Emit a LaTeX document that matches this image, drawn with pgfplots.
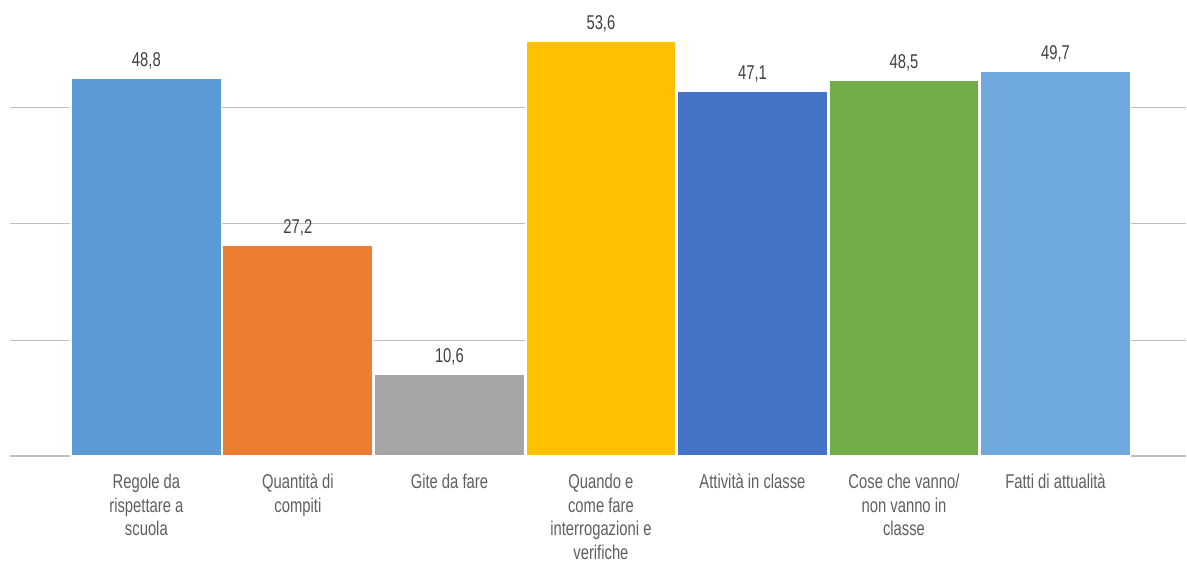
\documentclass[border=0pt]{standalone}
\usepackage{pgfplots}
\pgfplotsset{compat=1.18}
\usepackage{fontspec}
\setmainfont{Liberation Sans}[FakeStretch=0.74]
\definecolor{cA}{HTML}{5B9BD5}
\definecolor{cB}{HTML}{ED7D31}
\definecolor{cC}{HTML}{A5A5A5}
\definecolor{cD}{HTML}{FFC000}
\definecolor{cE}{HTML}{4472C4}
\definecolor{cF}{HTML}{70AD47}
\definecolor{cG}{HTML}{6FA8DC}
\definecolor{gridc}{HTML}{BFBFBF}
\definecolor{labc}{HTML}{5F5F5F}
\definecolor{valc}{HTML}{404040}
\begin{document}
\begin{tikzpicture}
\path (0pt,0pt) rectangle (890.25pt,422.25pt);
\begin{axis}[
  at={(7.5pt,79.875pt)}, anchor=south west,
  scale only axis, width=882.75pt, height=319.69pt,
  xmin=-0.9, xmax=6.863, ymin=0, ymax=55,
  clip=false,
  axis lines*=left,
  y axis line style={draw=none},
  x axis line style={gridc, line width=1.1pt, -},
  ytick={15,30,45}, yticklabels={}, ymajorgrids,
  grid style={gridc, line width=0.75pt},
  xtick={0,1,2,3,4,5,6},
  xticklabels={{Regole da\\rispettare a\\scuola},{Quantità di\\compiti},{Gite da fare},{Quando e\\come fare\\interrogazioni e\\verifiche},{Attività in classe},{Cose che vanno/\\non vanno in\\classe},{Fatti di attualità}},
  major tick length=0pt,
  xticklabel style={align=center, font=\fontsize{15}{17.8}\selectfont, text=labc, anchor=north, inner sep=0pt, yshift=-13pt},
  ybar, bar shift=0pt, bar width=0.992,
  every axis plot/.append style={draw=white, line width=1.1pt},
  /pgf/number format/assume math mode=true,
  /pgf/number format/.cd, use comma, fixed, fixed zerofill, precision=1, /pgfplots/.cd,
  nodes near coords,
  every node near coord/.append style={font=\fontsize{15}{18}\selectfont, text=valc, anchor=south, yshift=3pt},
]
\addplot[fill=cA] coordinates {(0,48.8)};
\addplot[fill=cB] coordinates {(1,27.2)};
\addplot[fill=cC] coordinates {(2,10.6)};
\addplot[fill=cD] coordinates {(3,53.6)};
\addplot[fill=cE] coordinates {(4,47.1)};
\addplot[fill=cF] coordinates {(5,48.5)};
\addplot[fill=cG] coordinates {(6,49.7)};
\end{axis}
\end{tikzpicture}
\end{document}
